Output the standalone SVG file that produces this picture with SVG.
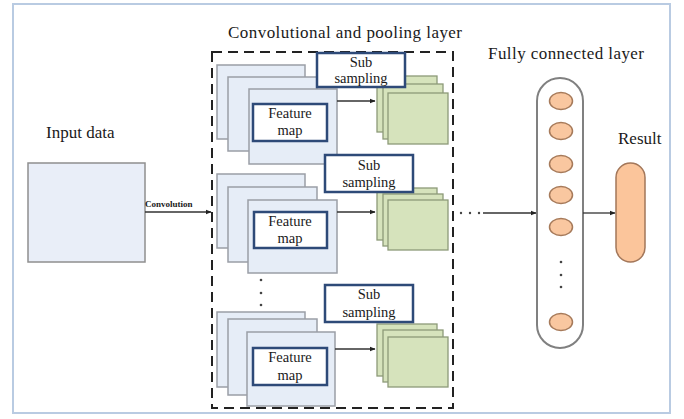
<svg xmlns="http://www.w3.org/2000/svg" width="684" height="419" viewBox="0 0 684 419">
<defs>
<style>
.t{font-family:"Liberation Serif","Times New Roman",serif;fill:#1a1a1a}
.lbl{font-size:17px}
.sm{font-size:14.5px;text-anchor:middle}
.fm{font-size:14.5px;text-anchor:middle}
.map{fill:#e6edf7;stroke:#9a9ea6;stroke-width:1.5}
.fmb{fill:#ffffff;stroke:#2e4a78;stroke-width:2.5}
.sub{fill:#ffffff;stroke:#2e4a78;stroke-width:2.5}
.pool{fill:#d6e3bc;stroke:#8d9a78;stroke-width:1.3}
.neu{fill:#f9c7a0;stroke:#a67a5a;stroke-width:1.5}
.ln{stroke:#333;stroke-width:1.3;fill:none}
.dot{fill:#444}
</style>
<marker id="ah" viewBox="0 0 10 10" refX="9" refY="5" markerWidth="6" markerHeight="6" orient="auto" markerUnits="userSpaceOnUse">
<path d="M0,1 L10,5 L0,9 z" fill="#222"/>
</marker>
</defs>
<rect x="0" y="0" width="684" height="419" fill="#ffffff"/>
<rect x="13" y="4" width="657" height="409" fill="#ffffff" stroke="#b9cbe2" stroke-width="2"/>

<text class="t lbl" x="228" y="38" textLength="234" lengthAdjust="spacing">Convolutional  and pooling  layer</text>
<text class="t lbl" x="488" y="59" textLength="156" lengthAdjust="spacing">Fully  connected layer</text>

<g id="input">
<text class="t lbl" x="46" y="138">Input data</text>
<rect x="28" y="163" width="117" height="99" fill="#e9eef8" stroke="#8f8f8f" stroke-width="1.5"/>
</g>

<g id="conv-pool-layer">
<rect x="212" y="52" width="241" height="356" fill="none" stroke="#222" stroke-width="2" stroke-dasharray="10,6"/>
</g>

<g id="group1">
<rect class="map" x="217" y="65" width="88" height="74"/>
<rect class="map" x="228" y="77" width="89" height="74"/>
<rect class="map" x="249" y="89" width="88" height="75"/>
<rect class="fmb" x="253" y="104" width="74" height="37"/>
<text class="t fm" x="290" y="118">Feature</text>
<text class="t fm" x="290" y="135">map</text>
<rect class="pool" x="377" y="76" width="60" height="56"/>
<rect class="pool" x="383" y="84" width="60" height="55"/>
<rect class="pool" x="388" y="93" width="60" height="51"/>
<rect class="sub" x="317" y="53" width="88" height="34"/>
<text class="t sm" x="361" y="67">Sub</text>
<text class="t sm" x="361" y="83">sampling</text>
</g>

<g id="group2">
<rect class="map" x="217" y="174" width="88" height="74"/>
<rect class="map" x="228" y="187" width="89" height="75"/>
<rect class="map" x="248" y="200" width="89" height="73"/>
<rect class="fmb" x="254" y="212" width="73" height="36"/>
<text class="t fm" x="290" y="226">Feature</text>
<text class="t fm" x="290" y="243">map</text>
<rect class="pool" x="377" y="188" width="60" height="52"/>
<rect class="pool" x="383" y="194" width="60" height="52"/>
<rect class="pool" x="388" y="200" width="60" height="50"/>
<rect class="sub" x="325" y="155" width="88" height="37"/>
<text class="t sm" x="369" y="170">Sub</text>
<text class="t sm" x="369" y="187">sampling</text>
</g>

<g id="group3">
<rect class="map" x="217" y="312" width="88" height="75"/>
<rect class="map" x="228" y="319" width="89" height="76"/>
<rect class="map" x="247" y="332" width="88" height="74"/>
<rect class="fmb" x="253" y="348" width="74" height="37"/>
<text class="t fm" x="290" y="362">Feature</text>
<text class="t fm" x="290" y="380">map</text>
<rect class="pool" x="377" y="324" width="60" height="52"/>
<rect class="pool" x="383" y="330" width="60" height="52"/>
<rect class="pool" x="388" y="337" width="60" height="50"/>
<rect class="sub" x="325" y="285" width="88" height="37"/>
<text class="t sm" x="369" y="299">Sub</text>
<text class="t sm" x="369" y="317">sampling</text>
</g>

<g id="vdots">
<circle class="dot" cx="261" cy="280" r="1.3"/>
<circle class="dot" cx="261" cy="293" r="1.3"/>
<circle class="dot" cx="261" cy="305" r="1.3"/>
</g>

<g id="fc-layer">
<rect x="537" y="78" width="46" height="270" rx="23" fill="#ffffff" stroke="#808080" stroke-width="2"/>
<ellipse class="neu" cx="561" cy="101" rx="11.5" ry="8.5"/>
<ellipse class="neu" cx="561" cy="131" rx="11.5" ry="8.5"/>
<ellipse class="neu" cx="561" cy="164" rx="11.5" ry="8.5"/>
<ellipse class="neu" cx="561" cy="195" rx="11.5" ry="8.5"/>
<ellipse class="neu" cx="561" cy="227" rx="11.5" ry="8.5"/>
<ellipse class="neu" cx="561" cy="322" rx="11.5" ry="8.5"/>
<circle class="dot" cx="561" cy="262" r="1.3"/>
<circle class="dot" cx="561" cy="275" r="1.3"/>
<circle class="dot" cx="561" cy="287" r="1.3"/>
</g>

<g id="result">
<text class="t lbl" x="618" y="144">Result</text>
<rect x="616" y="163" width="29" height="99" rx="14.5" fill="#fbc59b" stroke="#a3775a" stroke-width="1.5"/>
</g>

<g id="connectors">
<line class="ln" x1="145" y1="212" x2="211" y2="212" marker-end="url(#ah)"/>
<text class="t" x="145" y="207" font-size="9" font-weight="bold">Convolution</text>
<line class="ln" x1="337" y1="101" x2="375" y2="101" marker-end="url(#ah)"/>
<line class="ln" x1="337" y1="212" x2="375" y2="212" marker-end="url(#ah)"/>
<line class="ln" x1="335" y1="349" x2="375" y2="349" marker-end="url(#ah)"/>
<circle class="dot" cx="461" cy="213" r="1.2"/>
<circle class="dot" cx="470" cy="213" r="1.2"/>
<circle class="dot" cx="479" cy="213" r="1.2"/>
<line class="ln" x1="483" y1="213" x2="536" y2="213" marker-end="url(#ah)"/>
<line class="ln" x1="583" y1="213" x2="615" y2="213" marker-end="url(#ah)"/>
</g>
</svg>
